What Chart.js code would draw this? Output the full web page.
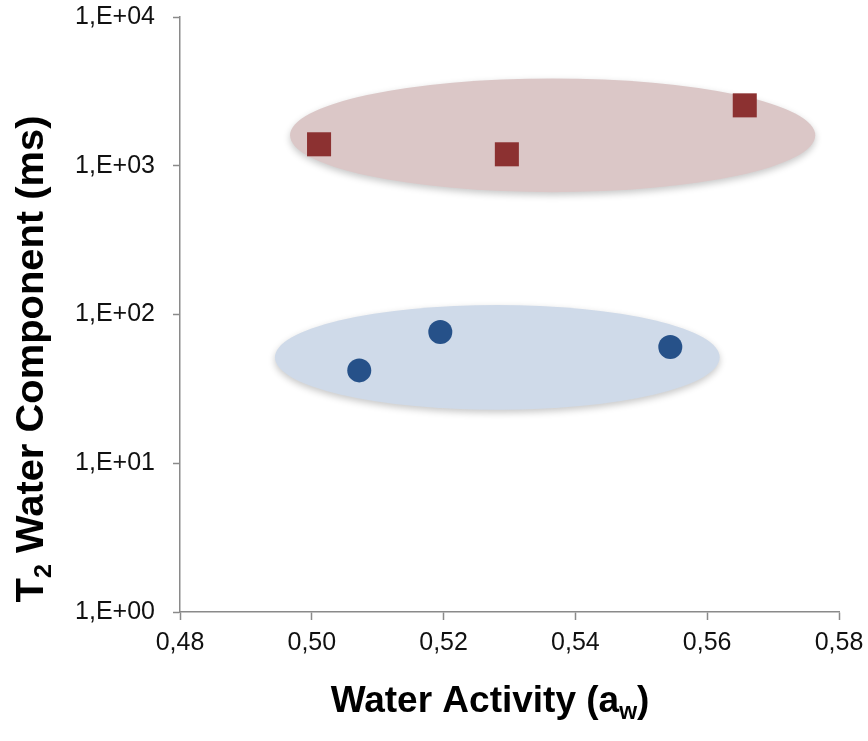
<!DOCTYPE html>
<html>
<head>
<meta charset="utf-8">
<script src="https://cdn.jsdelivr.net/npm/chart.js@4.4.0/dist/chart.umd.min.js"></script>
<style>
  html, body { margin: 0; padding: 0; background: #fff; }
  #wrap { width: 868px; height: 741px; }
</style>
</head>
<body>
<div id="wrap"><canvas id="myChart" width="868" height="741"></canvas></div>
<script>
"use strict";

// series
const redX = [0.5011, 0.5296, 0.5657];
const redY = [1394, 1194, 2547];
const blueX = [0.5072, 0.5195, 0.5544];
const blueY = [42.1, 76.3, 60.5];

// axis ticks
const xTicks = [0.48, 0.50, 0.52, 0.54, 0.56, 0.58];
const yTicks = [1, 10, 100, 1000, 10000];

// grouping ellipses, in data units: [xMin, xMax, yMin, yMax]
const redGroup = [0.4967, 0.5764, 664, 3865];
const blueGroup = [0.4944, 0.5619, 22.9, 115.8];

const ctx = document.getElementById('myChart');

const ellipsePlugin = {
    id: 'groupEllipses',
    beforeDatasetsDraw(chart) {
        const c = chart.ctx;
        const xs = chart.scales.x;
        const ys = chart.scales.y;
        const groups = [
            [redGroup, '#dbc7c7'],
            [blueGroup, '#cfdae9']
        ];
        groups.forEach(([g, color]) => {
            const x1 = xs.getPixelForValue(g[0]);
            const x2 = xs.getPixelForValue(g[1]);
            const y1 = ys.getPixelForValue(g[3]);
            const y2 = ys.getPixelForValue(g[2]);
            c.save();
            c.beginPath();
            c.ellipse((x1 + x2) / 2, (y1 + y2) / 2, (x2 - x1) / 2, (y2 - y1) / 2, 0, 0, Math.PI * 2);
            c.shadowColor = 'rgba(0,0,0,0.22)';
            c.shadowBlur = 7;
            c.shadowOffsetY = 3;
            c.fillStyle = color;
            c.fill();
            c.restore();
        });
    }
};

// axis titles need subscripts, so they are drawn by hand
function drawSubText(c, parts, size) {
    let total = 0;
    parts.forEach(p => {
        c.font = `bold ${p.sub ? Math.round(size * 0.62) : size}px "Liberation Sans", Arial, sans-serif`;
        total += c.measureText(p.t).width;
    });
    let x = -total / 2;
    parts.forEach(p => {
        c.font = `bold ${p.sub ? Math.round(size * 0.62) : size}px "Liberation Sans", Arial, sans-serif`;
        c.fillText(p.t, x, p.sub ? size * 0.2 : 0);
        x += c.measureText(p.t).width;
    });
}

const titlePlugin = {
    id: 'axisTitles',
    afterDraw(chart) {
        const c = chart.ctx;
        const area = chart.chartArea;
        c.save();
        c.fillStyle = '#000';
        c.textBaseline = 'alphabetic';
        c.textAlign = 'left';
        c.translate(area.left + 310, area.bottom + 100);
        drawSubText(c, [{ t: 'Water Activity (a' }, { t: 'w', sub: true }, { t: ')' }], 37);
        c.restore();

        c.save();
        c.fillStyle = '#000';
        c.textBaseline = 'alphabetic';
        c.textAlign = 'left';
        c.translate(43, area.top + 342);
        c.rotate(-Math.PI / 2);
        c.scale(1.05, 1);
        drawSubText(c, [{ t: 'T' }, { t: '2', sub: true }, { t: ' Water Component (ms)' }], 38);
        c.restore();
    }
};

const charts = new Chart(ctx, {
    type: 'scatter',
    data: {
        datasets: [{
            data: redX.map((x, i) => ({ x: x, y: redY[i] })),
            pointStyle: 'rect',
            pointRadius: 17,
            pointHoverRadius: 17,
            backgroundColor: '#8c3131',
            borderWidth: 0
        }, {
            data: blueX.map((x, i) => ({ x: x, y: blueY[i] })),
            pointStyle: 'circle',
            pointRadius: 12,
            pointHoverRadius: 12,
            backgroundColor: '#265189',
            borderWidth: 0
        }]
    },
    options: {
        responsive: false,
        animation: false,
        layout: {
            padding: { left: 0, right: 29, top: 16, bottom: 0 }
        },
        plugins: {
            legend: { display: false },
            tooltip: { enabled: false }
        },
        scales: {
            x: {
                type: 'linear',
                min: 0.48,
                max: 0.58,
                afterBuildTicks(scale) {
                    scale.ticks = xTicks.map(v => ({ value: v }));
                },
                afterFit(scale) {
                    scale.height = 129;
                    scale.paddingLeft = 0;
                    scale.paddingRight = 0;
                },
                ticks: {
                    padding: 8,
                    color: '#111',
                    font: { family: '"Liberation Sans", Arial, sans-serif', size: 25 },
                    callback: v => v.toFixed(2).replace('.', ',')
                },
                grid: {
                    drawOnChartArea: false,
                    tickLength: 8,
                    tickWidth: 1.5,
                    color: '#8a8a8a'
                },
                border: { color: '#8a8a8a', width: 1.5 }
            },
            y: {
                type: 'logarithmic',
                min: 1,
                max: 10000,
                afterBuildTicks(scale) {
                    scale.ticks = yTicks.map(v => ({ value: v }));
                },
                afterFit(scale) {
                    scale.width = 180;
                    scale.paddingTop = 0;
                    scale.paddingBottom = 0;
                },
                ticks: {
                    padding: 18,
                    color: '#111',
                    font: { family: '"Liberation Sans", Arial, sans-serif', size: 25 },
                    callback: v => '1,E+0' + Math.round(Math.log10(v))
                },
                grid: {
                    drawOnChartArea: false,
                    tickLength: 7,
                    tickWidth: 1.5,
                    color: '#8a8a8a'
                },
                border: { color: '#8a8a8a', width: 1.5 }
            }
        }
    },
    plugins: [ellipsePlugin, titlePlugin]
});
</script>
</body>
</html>
